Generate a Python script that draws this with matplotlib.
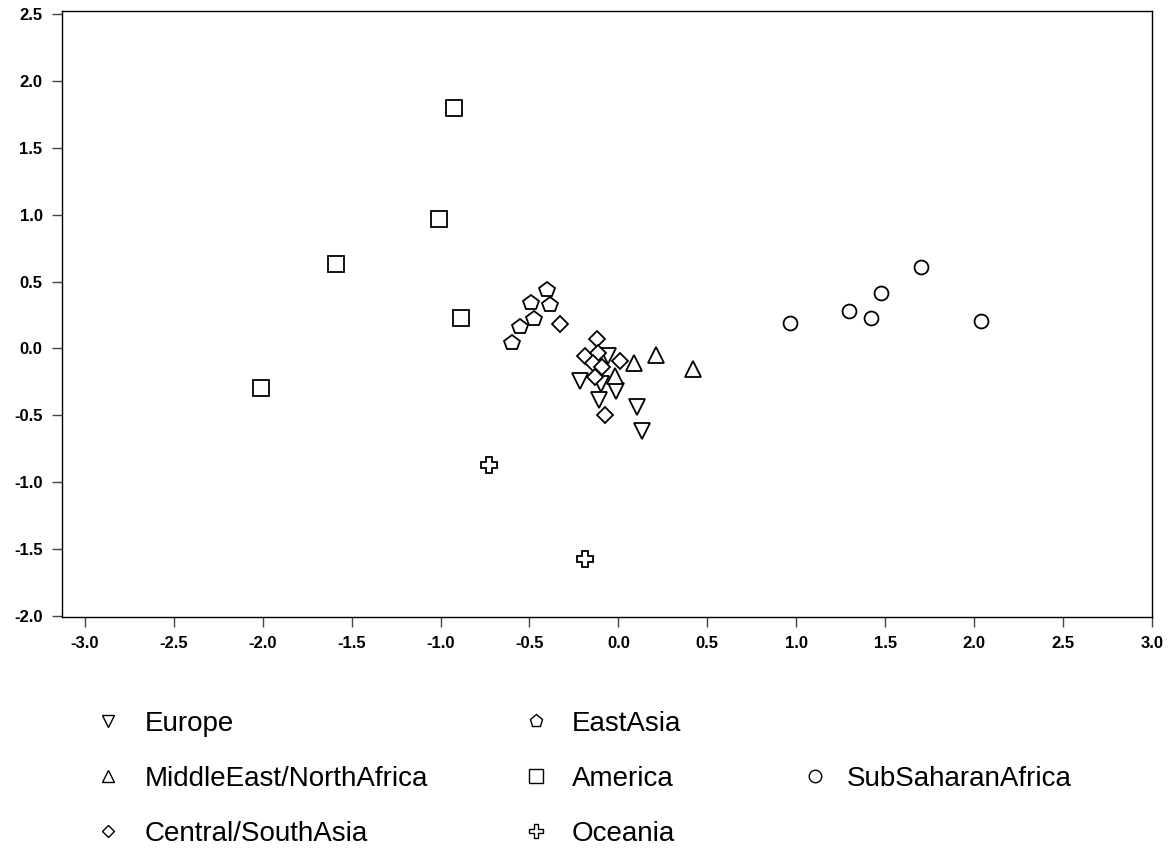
import matplotlib
matplotlib.use("Agg")
import matplotlib.pyplot as plt
from matplotlib.lines import Line2D

plt.rcParams["font.family"] = ["Liberation Sans", "DejaVu Sans"]

# component scores, one pair of lists per region
europe_x = [-0.058, -0.218, -0.096, -0.011, -0.111, 0.107, 0.134]
europe_y = [-0.054, -0.241, -0.266, -0.321, -0.385, -0.435, -0.619]

mena_x = [0.086, 0.209, 0.421, -0.017]
mena_y = [-0.112, -0.047, -0.154, -0.204]

csasia_x = [-0.331, -0.120, -0.190, -0.114, -0.143, -0.092, -0.134, 0.007, -0.077]
csasia_y = [0.182, 0.070, -0.060, -0.037, -0.112, -0.142, -0.211, -0.092, -0.495]

eastasia_x = [-0.402, -0.490, -0.383, -0.472, -0.551, -0.599]
eastasia_y = [0.436, 0.339, 0.326, 0.219, 0.157, 0.040]

america_x = [-0.923, -1.011, -1.590, -0.885, -2.008]
america_y = [1.799, 0.966, 0.630, 0.227, -0.296]

oceania_x = [-0.729, -0.190]
oceania_y = [-0.873, -1.572]

ssafrica_x = [0.966, 1.298, 1.421, 1.477, 1.699, 2.037]
ssafrica_y = [0.192, 0.281, 0.227, 0.413, 0.612, 0.207]

regions = ["Europe", "MiddleEast/NorthAfrica", "Central/SouthAsia",
           "EastAsia", "America", "Oceania", "SubSaharanAfrica"]
xs = [europe_x, mena_x, csasia_x, eastasia_x, america_x, oceania_x, ssafrica_x]
ys = [europe_y, mena_y, csasia_y, eastasia_y, america_y, oceania_y, ssafrica_y]
markers = ["v", "^", "D", "p", "s", "P", "o"]
sizes = [11, 11, 7.8, 11.5, 11.2, 11.5, 10]

xticks = [-3.0, -2.5, -2.0, -1.5, -1.0, -0.5, 0.0, 0.5, 1.0, 1.5, 2.0, 2.5, 3.0]
yticks = [-2.0, -1.5, -1.0, -0.5, 0.0, 0.5, 1.0, 1.5, 2.0, 2.5]

W, H = 1174, 850
fig = plt.figure(figsize=(W / 100, H / 100), dpi=100)
ax = fig.add_axes([62 / W, 1 - 617 / H, (1152 - 62) / W, (617 - 11) / H])

for x, y, m, s in zip(xs, ys, markers, sizes):
    ax.plot(x, y, linestyle="none", marker=m, markersize=s,
            markerfacecolor="white", markeredgecolor="black", markeredgewidth=1.3)

ax.set_xlim(-3.128, 3.0)
ax.set_ylim(-2.007, 2.522)
ax.set_xticks(xticks)
ax.set_yticks(yticks)
ax.set_xticklabels([f"{t:.1f}" for t in xticks])
ax.set_yticklabels([f"{t:.1f}" for t in yticks])
ax.tick_params(direction="out", length=7, width=1, color="#444444",
               labelsize=12, pad=7)
for lab in ax.get_xticklabels() + ax.get_yticklabels():
    lab.set_fontweight("bold")
for sp in ax.spines.values():
    sp.set_linewidth(1.0)
    sp.set_color("black")

# legend laid out by hand: three columns, rows as in the original
legend_cols = [(108, 145), (536, 572), (815, 847)]
legend_rows = [720.5, 775.5, 830.5]
legend_slots = [(0, 0), (0, 1), (0, 2), (1, 0), (1, 1), (1, 2), (2, 1)]
legend_sizes = [9, 9, 6.5, 9.5, 9.5, 10, 9]

for name, m, s, (c, r) in zip(regions, markers, legend_sizes, legend_slots):
    mx, tx = legend_cols[c]
    yy = legend_rows[r]
    fig.add_artist(Line2D([mx / W], [1 - yy / H], transform=fig.transFigure,
                          linestyle="none", marker=m, markersize=s,
                          markerfacecolor="white", markeredgecolor="black",
                          markeredgewidth=1.0))
    fig.text(tx / W, 1 - (yy + 10.4) / H, name, fontsize=20,
             ha="left", va="baseline")

fig.savefig("out.png", dpi=100, facecolor="white")
